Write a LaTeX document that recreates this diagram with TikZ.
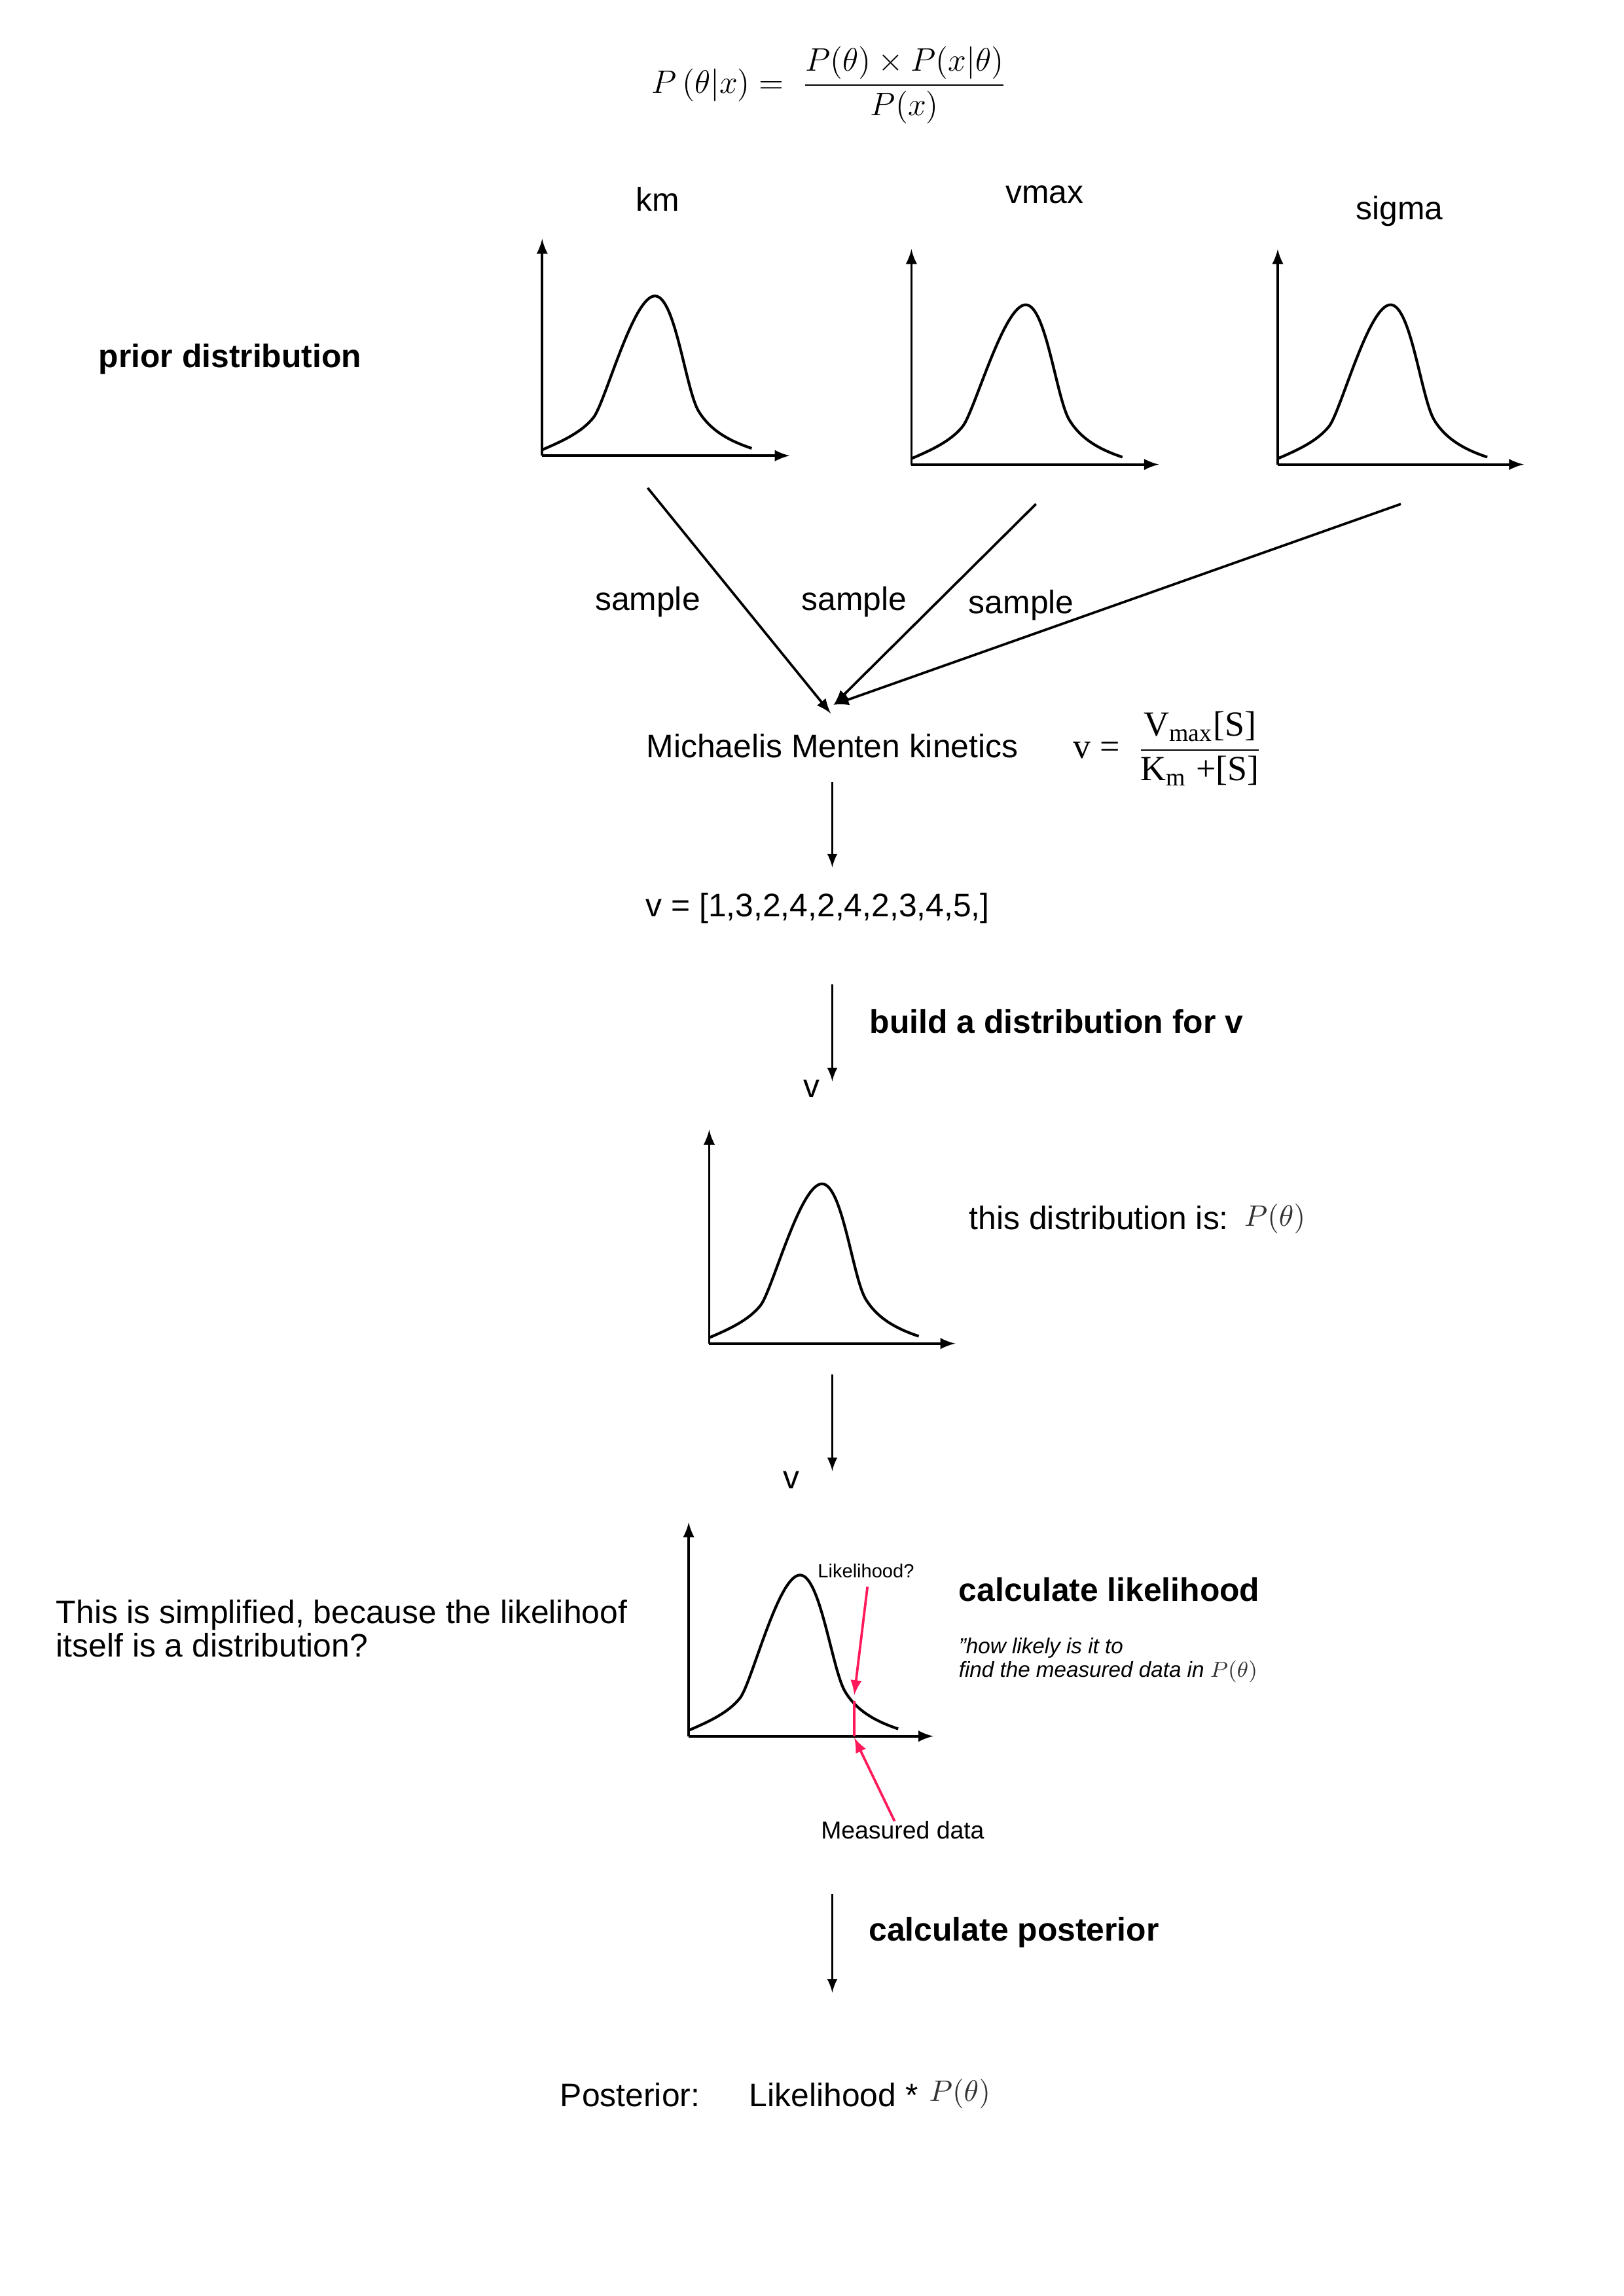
\documentclass[tikz,border=0pt]{standalone}
\usepackage{amsmath}
\usepackage[no-math]{fontspec}
\setmainfont{Liberation Sans}
\newfontfamily\timesfont{Liberation Serif}
\usetikzlibrary{positioning}
\definecolor{markred}{RGB}{255,25,90}
\newcommand{\tm}[1]{\text{\timesfont #1}}

\begin{document}
\begin{tikzpicture}[x=0.018948cm,y=-0.018948cm,>=latex]
\tikzstyle{txt}=[inner sep=0pt,font=\fontsize{12}{14}\selectfont]
\tikzstyle{head}=[inner sep=0pt,font=\fontsize{12}{14}\selectfont\bfseries]
\tikzstyle{grey}=[inner sep=0pt,font=\fontsize{10.5}{12}\selectfont,text=black!80]
\tikzstyle{axis}=[->,line width=0.9pt]
\tikzstyle{bell}=[line width=1pt]
\tikzstyle{flow}=[->,line width=0.9pt]
\tikzstyle{down}=[->,line width=0.7pt]
\tikzstyle{redline}=[draw=markred,line width=0.9pt]
\useasboundingbox (0,0) rectangle (1108.3,1567.1);

\node[inner sep=0pt,font=\fontsize{12}{14}\selectfont] (bayes) at (566,58)
  {$\displaystyle P\left(\theta|x\right) = \ \frac{P(\theta)\times P(x|\theta)}{P(x)}$};

% priors
\node[head] (prior) at (157,245) {prior distribution};
\node[txt] (km) at (449,136) {km};
\node[txt] (vmax) at (713,133) {vmax};
\node[txt] (sigma) at (955,144) {sigma};
\begin{scope}[shift={(370,311)}]
    \draw[axis] (0,0) -- (0,-148);
    \draw[axis] (0,0) -- (169,0);
    \draw[bell] (0,-4) .. controls (14,-10) and (27,-16) .. (35,-26)
      .. controls (43,-36) and (62,-109) .. (77,-109)
      .. controls (91,-109) and (98,-44) .. (107,-30)
      .. controls (115,-17) and (128,-10) .. (143,-5);
\end{scope}
\begin{scope}[shift={(622,317)}]
    \draw[axis] (0,0) -- (0,-147);
    \draw[axis] (0,0) -- (169,0);
    \draw[bell] (0,-4) .. controls (14,-10) and (27,-16) .. (35,-26)
      .. controls (43,-36) and (63,-109) .. (78,-109)
      .. controls (92,-109) and (99,-44) .. (108,-30)
      .. controls (116,-17) and (129,-10) .. (144,-5);
\end{scope}
\begin{scope}[shift={(872,317)}]
    \draw[axis] (0,0) -- (0,-147);
    \draw[axis] (0,0) -- (168,0);
    \draw[bell] (0,-4) .. controls (14,-10) and (27,-16) .. (35,-26)
      .. controls (43,-36) and (62,-109) .. (77,-109)
      .. controls (91,-109) and (98,-44) .. (107,-30)
      .. controls (115,-17) and (128,-10) .. (143,-5);
\end{scope}

% sampling
\node[txt] (samp1) at (442,411) {sample};
\node[txt] (samp2) at (583,411) {sample};
\node[txt] (samp3) at (697,413) {sample};
\coordinate (s1) at (442,333);
\coordinate (s2) at (707,344);
\coordinate (s3) at (956,344);
\coordinate (e1) at (567,487);
\coordinate (e2) at (569,481);
\draw[flow] (s1) -- (e1);
\draw[flow] (s2) -- (e2);
\draw[flow] (s3) -- (e2);

\node[txt] (mm) at (568,509) {Michaelis Menten kinetics};
\node[inner sep=0pt,font=\fontsize{13}{15}\selectfont] (mmeq) at (797,511)
  {\timesfont v =\ \ $\dfrac{\tm{V}_{\tm{max}}\tm{[S]}}{\tm{K}_{\tm{m}}\;\tm{+[S]}}$};
\coordinate (d1s) at (568,534);
\coordinate (d1e) at (568,592);
\draw[down] (d1s) -- (d1e);
\node[txt] (vlist) at (558,620) {v = [1,3,2,4,2,4,2,3,4,5,]};

\coordinate (d2s) at (568,672);
\coordinate (d2e) at (568,738);
\draw[down] (d2s) -- (d2e);
\node[head] (build) at (721,697) {build a distribution for v};
\node[txt] (v1) at (554,743) {v};

% distribution of v
\begin{scope}[shift={(484,917)}]
    \draw[axis] (0,0) -- (0,-146);
    \draw[axis] (0,0) -- (168,0);
    \draw[bell] (0,-4) .. controls (14,-10) and (27,-16) .. (35,-26)
      .. controls (43,-36) and (62,-109) .. (77,-109)
      .. controls (91,-109) and (98,-44) .. (107,-30)
      .. controls (115,-17) and (128,-10) .. (143,-5);
\end{scope}
\node[txt] (thisis) at (750,831) {this distribution is:};
\node[grey] (ptheta) at (870,832) {$P(\theta)$};

\coordinate (d3s) at (568,938);
\coordinate (d3e) at (568,1004);
\draw[down] (d3s) -- (d3e);
\node[txt] (v2) at (540,1010) {v};

% likelihood
\begin{scope}[shift={(470,1185)}]
    \draw[axis] (0,0) -- (0,-146);
    \draw[axis] (0,0) -- (167,0);
    \draw[bell] (0,-4) .. controls (14,-10) and (27,-16) .. (35,-26)
      .. controls (43,-36) and (61,-110) .. (76,-110)
      .. controls (90,-110) and (98,-44) .. (107,-30)
      .. controls (115,-17) and (128,-10) .. (143,-5);
    \draw[redline] (113,-24) -- (113,0);
\end{scope}
\node[inner sep=0pt,font=\fontsize{7}{8}\selectfont] (lik) at (591,1072) {Likelihood?};
\node[inner sep=0pt,font=\fontsize{9}{10}\selectfont] (meas) at (616,1249) {Measured data};
\coordinate (r1s) at (592,1083);
\coordinate (r1e) at (583,1157);
\coordinate (r2s) at (610.5,1243);
\coordinate (r2e) at (583,1186);
\draw[redline,->] (r1s) -- (r1e);
\draw[redline,->] (r2s) -- (r2e);
\node[head] (calclik) at (757,1085) {calculate likelihood};
\node[inner sep=0pt,anchor=west,align=left,font=\fontsize{8}{8.7}\selectfont\itshape] (howlik) at (654,1133)
  {"how likely is it to\\find the measured data in {\color{black!80}$P(\theta)$}};
\node[inner sep=0pt,anchor=west,align=left,font=\fontsize{12}{12.45}\selectfont] (simple) at (38,1111.5)
  {This is simplified, because the likelihoof\\itself is a distribution?};

\coordinate (d4s) at (568,1293);
\coordinate (d4e) at (568,1360);
\draw[down] (d4s) -- (d4e);
\node[head] (calcpost) at (692,1319) {calculate posterior};

\node[txt] (post) at (430,1430) {Posterior:};
\node[txt] (likstar) at (569,1430) {Likelihood *};
\node[grey] (ptheta2) at (655,1429) {$P(\theta)$};
\end{tikzpicture}
\end{document}
